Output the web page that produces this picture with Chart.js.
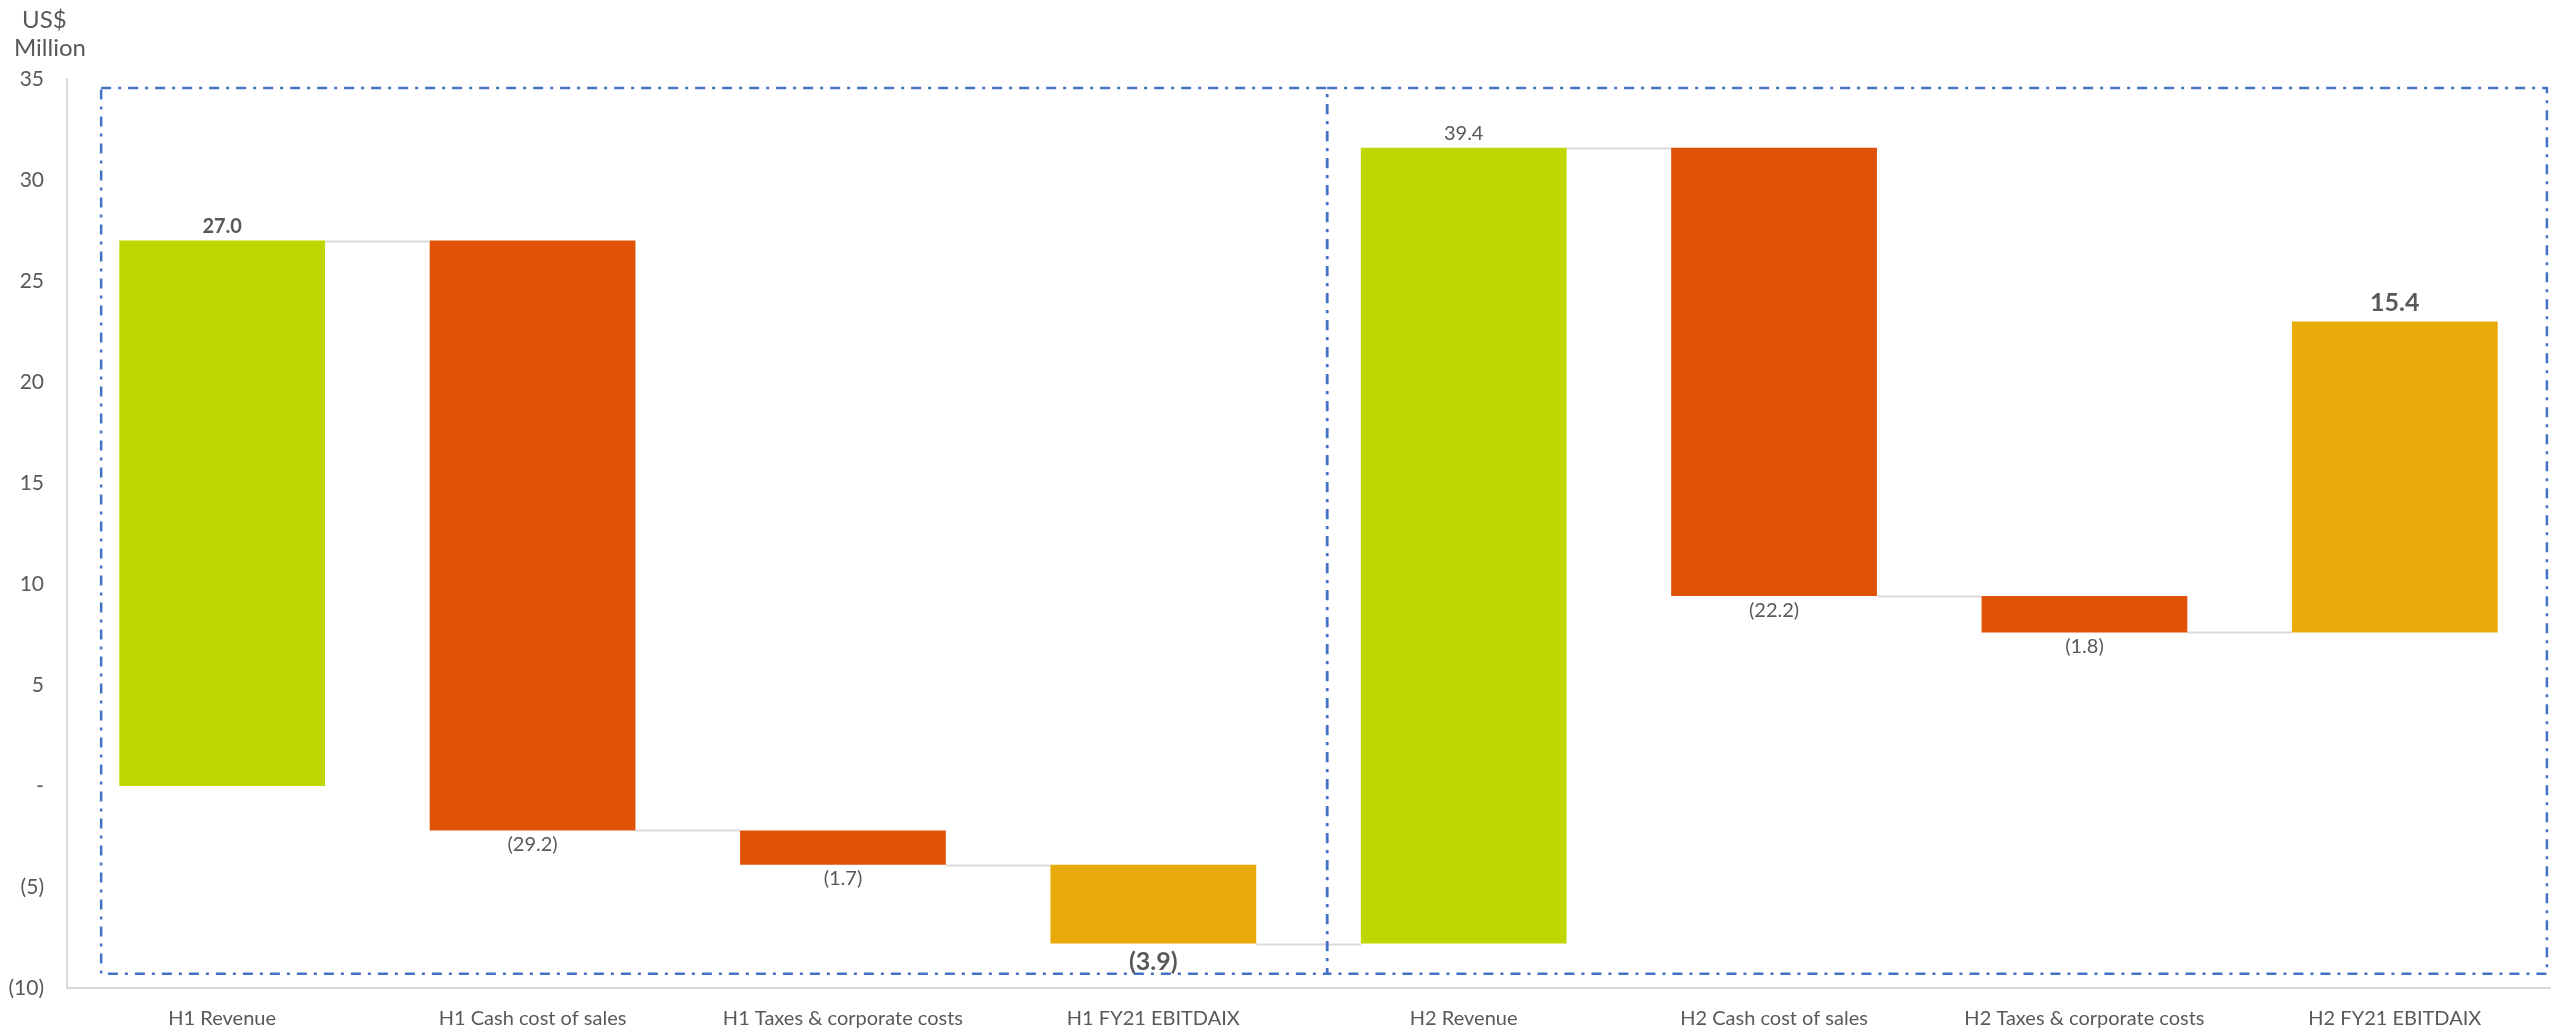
<!DOCTYPE html>
<html>
<head>
<meta charset="utf-8">
<script src="https://cdn.jsdelivr.net/npm/chart.js@4.4.1/dist/chart.umd.min.js"></script>
<style>
  html, body { margin: 0; padding: 0; background: #fff; }
  #wrap { width: 2568px; height: 1032px; }
</style>
</head>
<body>
<div id="wrap"><canvas id="myChart1" width="2568" height="1032"></canvas></div>
<script>
  // Waterfall data (US$ million)
  const categories = ['H1 Revenue', 'H1 Cash cost of sales', 'H1 Taxes & corporate costs', 'H1 FY21 EBITDAIX',
                      'H2 Revenue', 'H2 Cash cost of sales', 'H2 Taxes & corporate costs', 'H2 FY21 EBITDAIX'];
  const changes = [27.0, -29.2, -1.7, -3.9, 39.4, -22.2, -1.8, 15.4];
  const yTicks = [35, 30, 25, 20, 15, 10, 5, 0, -5, -10];

  // running totals -> floating [start, end] bars
  let running = 0;
  const floating = changes.map(v => {
    const start = running;
    running = Math.round((running + v) * 10) / 10;
    return [start, running];
  });

  const GREEN = '#BFD600', RED = '#E05206', GOLD = '#E8AB09';
  const barColors = [GREEN, RED, RED, GOLD, GREEN, RED, RED, GOLD];
  const FONT = 'Lato, "Open Sans", sans-serif';
  const GREY = '#595959';

  const fmt = v => v < 0 ? '(' + Math.abs(v).toFixed(1) + ')' : v.toFixed(1);

  // label look per bar: [size, weight]
  const labelStyle = [[20, 'bold'], [20, 'normal'], [20, 'normal'], [25, 'bold'],
                      [20, 'normal'], [20, 'normal'], [20, 'normal'], [25, 'bold']];

  const waterfallExtras = {
    id: 'waterfallExtras',
    beforeDatasetsDraw(chart) {
      const { ctx } = chart;
      const y = chart.scales.y;
      const bars = chart.getDatasetMeta(0).data;
      // connector lines between bar ends
      ctx.save();
      ctx.strokeStyle = '#D9D9D9';
      ctx.lineWidth = 2;
      for (let i = 0; i < bars.length - 1; i++) {
        const py = Math.round(y.getPixelForValue(floating[i][1])) + 0.5;
        ctx.beginPath();
        ctx.moveTo(bars[i].x + bars[i].width / 2, py);
        ctx.lineTo(bars[i + 1].x - bars[i + 1].width / 2, py);
        ctx.stroke();
      }
      ctx.restore();
    },
    afterDatasetsDraw(chart) {
      const { ctx } = chart;
      const x = chart.scales.x, y = chart.scales.y;
      const bars = chart.getDatasetMeta(0).data;

      // value labels
      ctx.save();
      ctx.fillStyle = GREY;
      ctx.textAlign = 'center';
      ctx.textBaseline = 'middle';
      bars.forEach((bar, i) => {
        const [size, weight] = labelStyle[i];
        ctx.font = weight + ' ' + size + 'px ' + FONT;
        const v = changes[i];
        const top = y.getPixelForValue(Math.max(...floating[i]));
        const bottom = y.getPixelForValue(Math.min(...floating[i]));
        const off = size > 20 ? 18 : 14;
        ctx.fillText(fmt(v), bar.x, v >= 0 ? top - off : bottom + off);
      });
      ctx.restore();

      // dash-dot boxes around each half
      const step = x.getPixelForValue(1) - x.getPixelForValue(0);
      const boxes = [[-0.39, 3.56], [3.56, 7.49]];
      ctx.save();
      ctx.strokeStyle = '#4472C4';
      ctx.lineWidth = 2.5;
      ctx.setLineDash([10, 7, 3, 7]);
      const yTop = y.getPixelForValue(34.55), yBot = y.getPixelForValue(-9.3);
      boxes.forEach(([a, b]) => {
        const x0 = x.getPixelForValue(0) + a * step;
        const x1 = x.getPixelForValue(0) + b * step;
        ctx.strokeRect(x0, yTop, x1 - x0, yBot - yTop);
      });
      ctx.restore();

      // unit caption
      ctx.save();
      ctx.fillStyle = GREY;
      ctx.font = '24px ' + FONT;
      ctx.textAlign = 'left';
      ctx.textBaseline = 'middle';
      ctx.fillText('US$', 22, 20);
      ctx.fillText('Million', 14, 48);
      ctx.restore();
    }
  };

  const config1 = {
    type: 'bar',
    data: {
      labels: categories,
      datasets: [{
        data: floating,
        backgroundColor: barColors,
        borderWidth: 0,
        barPercentage: 0.663,
        categoryPercentage: 1.0
      }]
    },
    options: {
      responsive: false,
      animation: false,
      layout: { padding: { top: 79, right: 18, left: 0, bottom: 0 } },
      plugins: {
        legend: { display: false },
        title: { display: false },
        tooltip: { enabled: false }
      },
      scales: {
        x: {
          grid: { display: false },
          border: { display: true, color: '#D9D9D9', width: 2 },
          ticks: { color: GREY, font: { family: FONT, size: 20 }, padding: 11, maxRotation: 0, autoSkip: false },
          afterFit(scale) { scale.height = 44; }
        },
        y: {
          min: -10,
          max: 35,
          afterBuildTicks(scale) { scale.ticks = yTicks.map(v => ({ value: v })); },
          grid: { display: false },
          border: { display: true, color: '#D9D9D9', width: 2 },
          ticks: {
            color: GREY,
            font: { family: FONT, size: 21 },
            padding: 15,
            callback: v => v === 0 ? '-' : (v < 0 ? '(' + Math.abs(v) + ')' : String(v))
          },
          afterFit(scale) { scale.width = 67; }
        }
      }
    },
    plugins: [waterfallExtras]
  };

  const ctx = document.getElementById('myChart1').getContext('2d');
  const myChart1 = new Chart(ctx, config1);
</script>
</body>
</html>
